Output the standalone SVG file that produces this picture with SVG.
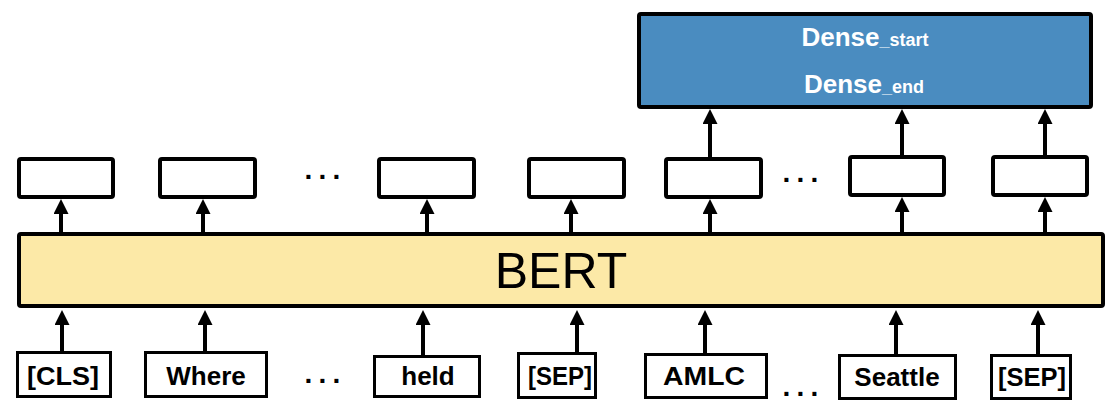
<svg xmlns="http://www.w3.org/2000/svg" width="1112" height="406" viewBox="0 0 1112 406">
<style>
.box{fill:#ffffff;stroke:#000;stroke-width:4}
.tok{fill:#ffffff;stroke:#000;stroke-width:3}
.lbl{font-family:"Liberation Sans",Arial,sans-serif;font-weight:bold;font-size:26px;fill:#000;text-anchor:middle}
.dots{font-family:"Liberation Sans",Arial,sans-serif;font-weight:bold;font-size:28px;fill:#000;letter-spacing:6.2px}
.arr{stroke:#000;stroke-width:4;fill:none;marker-end:url(#ah)}
.dense{font-family:"Liberation Sans",Arial,sans-serif;font-weight:bold;font-size:26px;fill:#fff;text-anchor:middle}
</style>
<defs>
<marker id="ah" markerUnits="userSpaceOnUse" markerWidth="15" markerHeight="15" refX="2" refY="7.5" orient="auto">
<path d="M0,0 L15,7.5 L0,15 z" fill="#000"/>
</marker>
</defs>
<rect width="1112" height="406" fill="#fff"/>

<g id="dense">
<rect x="639" y="14" width="452" height="93" rx="2" fill="#4a8cc0" stroke="#000" stroke-width="4"/>
<text class="dense" x="865" y="46">Dense<tspan font-size="18">_start</tspan></text>
<text class="dense" x="864" y="93">Dense<tspan font-size="18">_end</tspan></text>
</g>

<g id="outputs">
<rect id="o1" class="box" x="19" y="159" width="94" height="38" rx="2"/>
<rect id="o2" class="box" x="160" y="159" width="95" height="38" rx="2"/>
<rect id="o3" class="box" x="379" y="159" width="95" height="38" rx="2"/>
<rect id="o4" class="box" x="529" y="159" width="95" height="38" rx="2"/>
<rect id="o5" class="box" x="666" y="159" width="95" height="38" rx="2"/>
<rect id="o6" class="box" x="850" y="157" width="94" height="38" rx="2"/>
<rect id="o7" class="box" x="993" y="157" width="94" height="38" rx="2"/>
<text class="dots" x="304.5" y="179">...</text>
<text class="dots" x="782.5" y="182">...</text>
</g>

<g id="bert">
<rect x="19" y="234" width="1084" height="72" rx="2" fill="#fce9a7" stroke="#000" stroke-width="4"/>
<text x="561" y="288" font-family="Liberation Sans,Arial,sans-serif" font-size="50" text-anchor="middle" fill="#000">BERT</text>
</g>

<g id="tokens">
<g id="t1"><rect class="tok" x="17.5" y="352.5" width="93" height="44"/><text class="lbl" x="63" y="385" textLength="72" lengthAdjust="spacingAndGlyphs">[CLS]</text></g>
<g id="t2"><rect class="tok" x="145.5" y="352.5" width="121" height="44"/><text class="lbl" x="206" y="385">Where</text></g>
<g id="t3"><rect class="tok" x="374.5" y="356.5" width="105" height="40"/><text class="lbl" x="428" y="385">held</text></g>
<g id="t4"><rect class="tok" x="518.5" y="353.5" width="77" height="44"/><text class="lbl" x="560" y="385" textLength="64" lengthAdjust="spacingAndGlyphs">[SEP]</text></g>
<g id="t5"><rect class="tok" x="645.5" y="354.5" width="121" height="43"/><text class="lbl" x="704" y="385" textLength="82" lengthAdjust="spacingAndGlyphs">AMLC</text></g>
<g id="t6"><rect class="tok" x="839.5" y="355.5" width="116" height="43"/><text class="lbl" x="897" y="386">Seattle</text></g>
<g id="t7"><rect class="tok" x="991.5" y="355.5" width="79" height="43"/><text class="lbl" x="1032" y="386" textLength="68" lengthAdjust="spacingAndGlyphs">[SEP]</text></g>
<text class="dots" x="304.5" y="383">...</text>
<text class="dots" x="782.5" y="396">...</text>
</g>

<g id="connectors">
<line class="arr" x1="62" y1="351" x2="62" y2="323"/>
<line class="arr" x1="205" y1="351" x2="205" y2="323"/>
<line class="arr" x1="423" y1="355" x2="423" y2="323"/>
<line class="arr" x1="577" y1="352" x2="577" y2="323"/>
<line class="arr" x1="705" y1="353" x2="705" y2="323"/>
<line class="arr" x1="896" y1="354" x2="896" y2="323"/>
<line class="arr" x1="1038" y1="354" x2="1038" y2="323"/>

<line class="arr" x1="61" y1="232" x2="61" y2="212"/>
<line class="arr" x1="203" y1="232" x2="203" y2="212"/>
<line class="arr" x1="427" y1="232" x2="427" y2="212"/>
<line class="arr" x1="571" y1="232" x2="571" y2="212"/>
<line class="arr" x1="710" y1="232" x2="710" y2="212"/>
<line class="arr" x1="902" y1="232" x2="902" y2="210"/>
<line class="arr" x1="1045" y1="232" x2="1045" y2="210"/>

<line class="arr" x1="710" y1="157" x2="710" y2="122"/>
<line class="arr" x1="902" y1="155" x2="902" y2="122"/>
<line class="arr" x1="1045" y1="155" x2="1045" y2="122"/>
</g>
</svg>
